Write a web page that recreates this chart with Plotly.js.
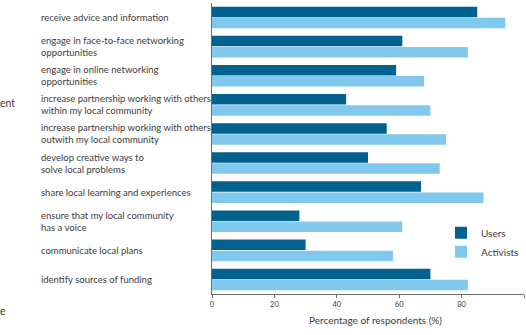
<!DOCTYPE html>
<html>
<head>
<meta charset="utf-8">
<script src="https://cdn.plot.ly/plotly-3.0.1.min.js"></script>
<style>
  html, body { margin: 0; padding: 0; background: #fff; }
  #chart { width: 526px; height: 335px; }
</style>
</head>
<body>
<div id="chart"></div>
<script>
// Activities respondents said the network helps them to do
const categories = [
  "receive advice and information",
  "engage in face-to-face networking<br>opportunities",
  "engage in online networking<br>opportunities",
  "increase partnership working with others<br>within my local community",
  "increase partnership working with others<br>outwith my local community",
  "develop creative ways to<br>solve local problems",
  "share local learning and experiences",
  "ensure that my local community<br>has a voice",
  "communicate local plans",
  "identify sources of funding"
];
const usersValues     = [85, 61, 59, 43, 56, 50, 67, 28, 30, 70];
const activistsValues = [94, 82, 68, 70, 75, 73, 87, 61, 58, 82];
const xTicks = [0, 20, 40, 60, 80, 100];

const textColor = "#3c3c3c";
const fontFamily = "Lato, 'Open Sans', sans-serif";

const traces = [
  {
    type: "bar", orientation: "h", name: "Users",
    y: categories, x: usersValues,
    marker: { color: "#02628f" },
    hoverinfo: "skip"
  },
  {
    type: "bar", orientation: "h", name: "Activists",
    y: categories, x: activistsValues,
    marker: { color: "#80c8ec" },
    hoverinfo: "skip"
  }
];

// Left-aligned category labels beside the bars
const labelAnnotations = categories.map(c => ({
  xref: "paper", yref: "y", x: -0.555, y: c,
  xanchor: "left", yanchor: "middle", align: "left",
  text: c, showarrow: false,
  font: { family: fontFamily, size: 9.5, color: textColor }
}));

const layout = {
  width: 526, height: 335,
  margin: { l: 211.5, r: 1.5, t: 3, b: 41 },
  paper_bgcolor: "#ffffff", plot_bgcolor: "#ffffff",
  barmode: "group", bargap: 0.24, bargroupgap: 0.05,
  showlegend: true,
  legend: {
    x: 1.0, y: 0.26, xanchor: "right", yanchor: "top",
    bgcolor: "rgba(0,0,0,0)", itemwidth: 30, tracegroupgap: 0,
    indentation: -10,
    font: { family: fontFamily, size: 10, color: textColor }
  },
  xaxis: {
    range: [0, 100], tickvals: xTicks, ticktext: xTicks.map(String),
    showgrid: false, zeroline: false,
    showline: true, linecolor: "#6e6e6e", linewidth: 1,
    ticks: "outside", ticklen: 3, tickcolor: "#6e6e6e",
    tickfont: { family: fontFamily, size: 7.5, color: textColor },
    automargin: false, fixedrange: true
  },
  yaxis: {
    autorange: "reversed", showticklabels: false,
    showgrid: false, zeroline: false,
    showline: true, linecolor: "#6e6e6e", linewidth: 1,
    ticks: "", automargin: false, fixedrange: true
  },
  annotations: labelAnnotations.concat([
    {
      xref: "paper", yref: "paper", x: 0.524, y: -0.089,
      xanchor: "center", yanchor: "middle",
      text: "Percentage of respondents (%)", showarrow: false,
      font: { family: fontFamily, size: 10, color: textColor }
    },
    {
      xref: "paper", yref: "paper", x: -0.685, y: 0.655,
      xanchor: "left", yanchor: "middle",
      text: "ent", showarrow: false,
      font: { family: fontFamily, size: 10.5, color: textColor }
    },
    {
      xref: "paper", yref: "paper", x: -0.685, y: -0.06,
      xanchor: "left", yanchor: "middle",
      text: "e", showarrow: false,
      font: { family: fontFamily, size: 10.5, color: textColor }
    }
  ])
};

Plotly.newPlot("chart", traces, layout, { displayModeBar: false, staticPlot: true });
</script>
</body>
</html>
